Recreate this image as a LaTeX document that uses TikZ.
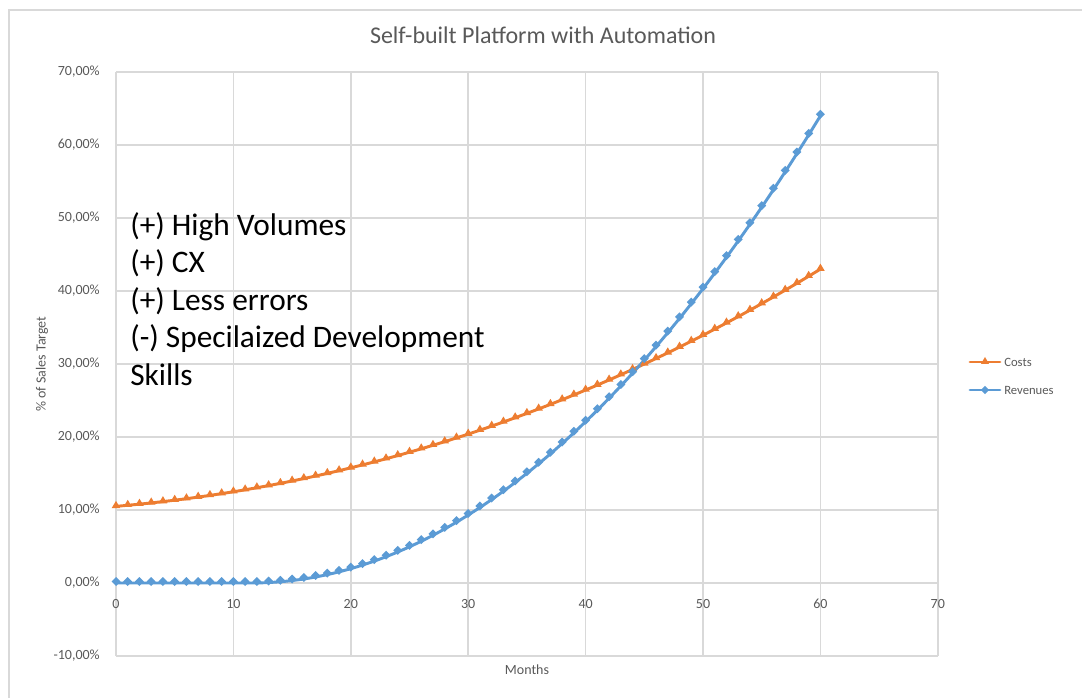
\documentclass[tikz,border=0pt]{standalone}
\usepackage{fontspec}
\setmainfont{Carlito}
\definecolor{costsorange}{RGB}{237,125,49}
\definecolor{revblue}{RGB}{91,155,213}
\definecolor{gridgray}{RGB}{217,217,217}
\definecolor{labelgray}{RGB}{89,89,89}

\begin{document}
\begin{tikzpicture}[x=0.75pt,y=0.75pt,yscale=-1,xscale=1,
  declare function={px(\t)=116+11.74*\t; py(\t)=583-7.30*\t;
    costs(\t)=10.5+1.383*(\t/10)+0.6056*(\t/10)^2+0.0111*(\t/10)^3;
    revs(\t)=0.02721*max(\t-11.5,0)^2;},
  gridline/.style={draw=gridgray,line width=1.1},
  ticklabel/.style={font=\fontsize{10.5}{12}\selectfont,text=labelgray,inner sep=0.75pt},
  series/.style={line width=2.2,line cap=round,line join=round}]
\useasboundingbox (0,0) rectangle (1082,698);

%Shape: Chart frame
\draw [gridgray,line width=1.1] (9,698) -- (9,10) -- (1082,10) ;

%Straight Lines: grid
\foreach \v in {-10,0,...,70}
  \draw [gridline] (116,{py(\v)}) -- (938,{py(\v)}) ;
\foreach \k in {0,10,...,70}
  \draw [gridline] ({px(\k)},72) -- ({px(\k)},656) ;

% Text Node: tick labels
\foreach \v in {-10,0,...,70}
  \node [ticklabel,anchor=east] (yt\v) at (101,{py(\v)}) {\v,00\%};
\foreach \k in {0,10,...,70}
  \node [ticklabel] (xt\k) at ({px(\k)},604) {\k};

%Curves: series
\draw [series,costsorange] plot [smooth,domain=0:60,samples=61] ({px(\x)},{py(costs(\x))}) ;
\draw [series,revblue] plot [smooth,domain=0:60,samples=61] ({px(\x)},{py(revs(\x))}) ;
\foreach \m in {0,...,60} {
  \fill [costsorange] ({px(\m)},{py(costs(\m))-5.5}) -- ++(4.3,7.2) -- ++(-8.6,0) -- cycle ;
  \fill [revblue] ({px(\m)},{py(revs(\m))-1.5}) +(0,-4.5) -- +(4.5,0) -- +(0,4.5) -- +(-4.5,0) -- cycle ;
}

% Text Node
\node [font=\fontsize{18}{21}\selectfont,text=labelgray] (title) at (543,35) {Self-built Platform with Automation};
% Text Node
\node [ticklabel,rotate=90] (ylabel) at (42,364) {\% of Sales Target};
% Text Node
\node [ticklabel] (xlabel) at (527,670) {Months};
% Text Node
\node [anchor=north west,align=left,inner sep=0pt,font=\fontsize{23.5}{28.2}\selectfont] (pros) at (130,212)
  {(+) High Volumes\\(+) CX\\(+) Less errors\\(-) Specilaized Development\\Skills};

%Legend
\draw [series,costsorange] (970,362) -- (1000,362) ;
\fill [costsorange] (985,357) -- ++(4,6.8) -- ++(-8,0) -- cycle ;
\node [ticklabel,anchor=west,font=\fontsize{9.5}{11}\selectfont] (costs) at (1003,362) {Costs};
\draw [series,revblue] (970,390) -- (1000,390) ;
\fill [revblue] (985,390) +(0,-4.2) -- +(4.2,0) -- +(0,4.2) -- +(-4.2,0) -- cycle ;
\node [ticklabel,anchor=west,font=\fontsize{9.5}{11}\selectfont] (revenues) at (1003,390) {Revenues};

\end{tikzpicture}
\end{document}
